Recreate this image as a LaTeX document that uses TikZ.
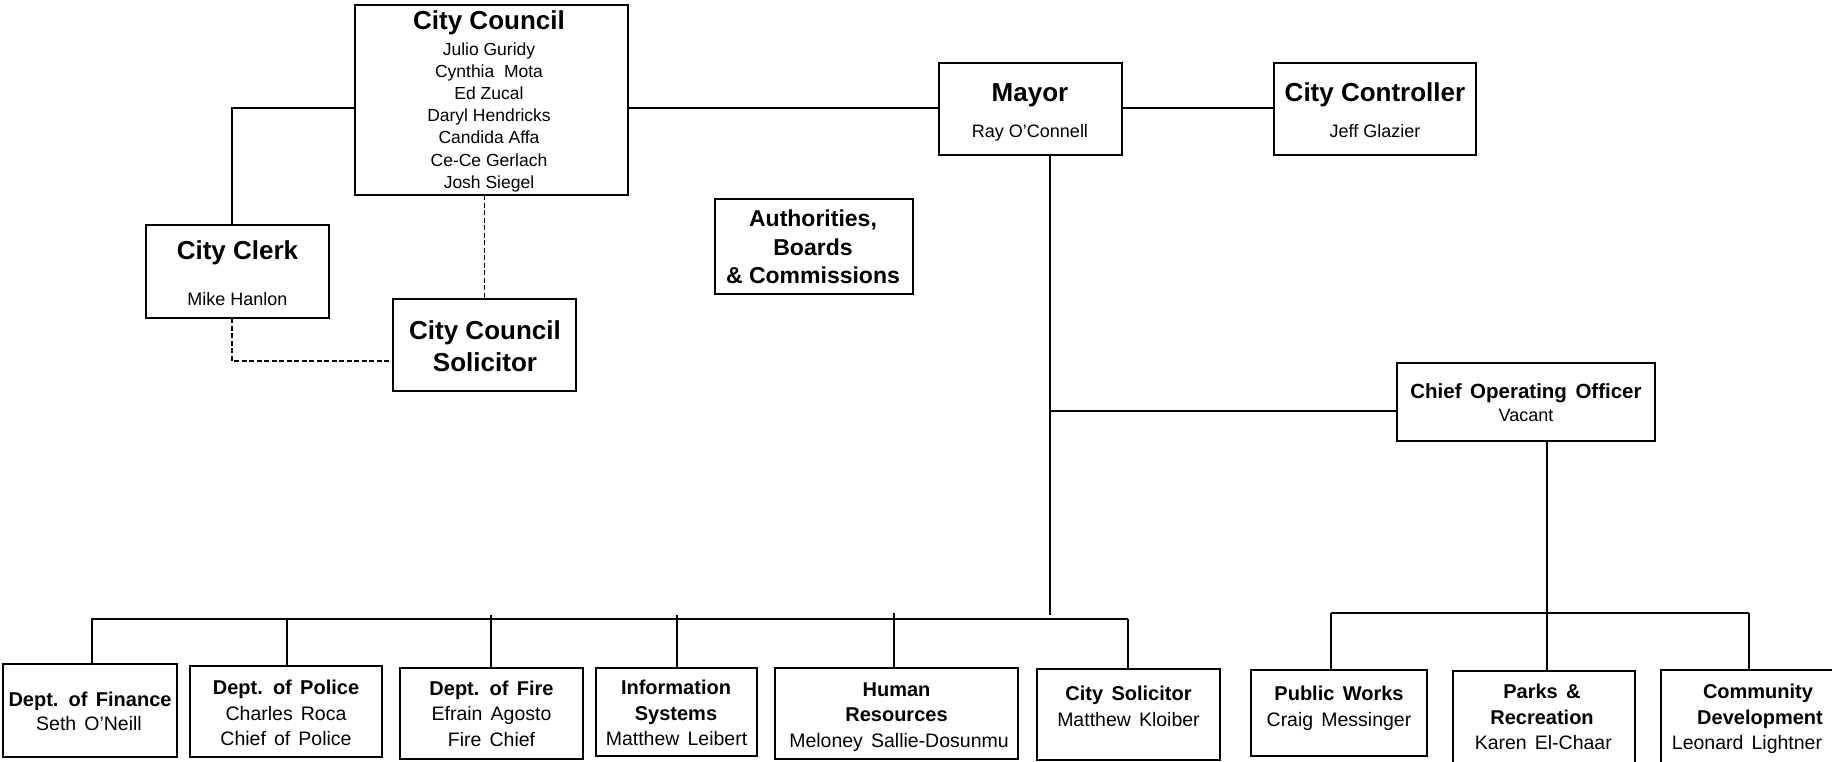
\documentclass[tikz,border=0pt]{standalone}
\usepackage{fontspec}
\setmainfont{Liberation Sans}
\newfontfamily\wsfont{Liberation Sans}[WordSpace=1.5]
\usetikzlibrary{calc}
\tikzset{
  box/.style={draw, line width=2pt, rectangle, inner sep=0pt, outer sep=0pt},
  lnk/.style={line width=1.8pt},
  thk/.style={line width=2.5pt},
  dsh/.style={line width=1.5pt, dash pattern=on 5pt off 2.5pt},
  ttl/.style={font=\fontsize{26}{30}\selectfont\bfseries, anchor=base, inner sep=0pt},
  nm/.style={font=\fontsize{18}{22}\selectfont, anchor=base, inner sep=0pt},
  cnm/.style={font=\fontsize{17.5}{22}\selectfont, anchor=base, inner sep=0pt},
  authtl/.style={font=\fontsize{23}{28}\selectfont\bfseries, anchor=base, inner sep=0pt},
  cootl/.style={font=\wsfont\fontsize{20.5}{24}\selectfont\bfseries, anchor=base, inner sep=0pt},
  btl/.style={font=\wsfont\fontsize{20}{24}\selectfont\bfseries, anchor=base, inner sep=0pt},
  bnm/.style={font=\wsfont\fontsize{19.5}{24}\selectfont, anchor=base, inner sep=0pt},
}
\newcommand\mkbox[5]{\node[box, minimum width={#4-#2}, minimum height={#5-#3}] (#1) at ({(#2+#4)/2},{(#3+#5)/2}) {};}
\begin{document}
\begin{tikzpicture}[x=1pt,y=-1pt]
\useasboundingbox (0,0) rectangle (1832,761);
% boxes
\mkbox{council}{355}{5}{628}{195}
\mkbox{mayor}{939}{63}{1122}{155}
\mkbox{ctrl}{1274}{63}{1476}{155}
\mkbox{clerk}{146}{225}{329}{318}
\mkbox{ccsol}{393}{299}{576}{391}
\mkbox{auth}{715}{199}{913}{294}
\mkbox{coo}{1397}{363}{1655}{441}
\mkbox{finance}{3}{664}{177}{757}
\mkbox{police}{190}{666}{382}{757}
\mkbox{fire}{400}{668}{583}{759}
\mkbox{info}{596}{668}{757}{756}
\mkbox{hr}{775}{668}{1018}{759}
\mkbox{citysol}{1037}{669}{1220}{760}
\mkbox{pw}{1251}{670}{1427}{756}
\mkbox{parks}{1453}{671}{1635}{766}
\mkbox{comm}{1661}{670}{1855}{766}
% texts
\node[ttl] (council-t) at (489,29.5) {City Council};
\node[cnm] (council-n1) at (489,55) {Julio Guridy};
\node[cnm] (council-n2) at (489,77.2) {Cynthia\ \ Mota};
\node[cnm] (council-n3) at (489,99.4) {Ed Zucal};
\node[cnm] (council-n4) at (489,121.6) {Daryl Hendricks};
\node[cnm] (council-n5) at (489,143.8) {Candida Affa};
\node[cnm] (council-n6) at (489,166) {Ce-Ce Gerlach};
\node[cnm] (council-n7) at (489,188.2) {Josh Siegel};
\node[ttl] (mayor-t) at (1030,101) {Mayor};
\node[nm] (mayor-n) at (1030,137.5) {Ray O’Connell};
\node[ttl] (ctrl-t) at (1375,101.5) {City Controller};
\node[nm] (ctrl-n) at (1375,137.5) {Jeff Glazier};
\node[ttl] (clerk-t) at (237.5,259.5) {City Clerk};
\node[nm] (clerk-n) at (237.5,305) {Mike Hanlon};
\node[ttl] (ccsol-t1) at (485,339) {City Council};
\node[ttl] (ccsol-t2) at (485,371) {Solicitor};
\node[authtl] (auth-t1) at (813,226) {Authorities,};
\node[authtl] (auth-t2) at (813,255) {Boards};
\node[authtl] (auth-t3) at (813,283.3) {\& Commissions};
\node[cootl] (coo-t) at (1526,398.3) {Chief Operating Officer};
\node[nm] (coo-n) at (1526,421) {Vacant};
\node[btl] (finance-t) at (90,706.7) {Dept. of Finance};
\node[bnm] (finance-n) at (89,730) {Seth O’Neill};
\node[btl] (police-t) at (286,694.3) {Dept. of Police};
\node[bnm] (police-n1) at (286,720) {Charles Roca};
\node[bnm] (police-n2) at (286,745.7) {Chief of Police};
\node[btl] (fire-t) at (491.5,695) {Dept. of Fire};
\node[bnm] (fire-n1) at (491.5,720.7) {Efrain Agosto};
\node[bnm] (fire-n2) at (491.5,746.7) {Fire Chief};
\node[btl] (info-t1) at (676,694.3) {Information};
\node[btl] (info-t2) at (676,720) {Systems};
\node[bnm] (info-n) at (676.5,745.7) {Matthew Leibert};
\node[btl] (hr-t1) at (896.5,696.7) {Human};
\node[btl] (hr-t2) at (896.5,721.7) {Resources};
\node[bnm] (hr-n) at (899,747.3) {Meloney Sallie-Dosunmu};
\node[btl] (citysol-t) at (1128.5,700.7) {City Solicitor};
\node[bnm] (citysol-n) at (1128.5,726) {Matthew Kloiber};
\node[btl] (pw-t) at (1339,700.7) {Public Works};
\node[bnm] (pw-n) at (1339,726) {Craig Messinger};
\node[btl] (parks-t1) at (1542,698.3) {Parks \&};
\node[btl] (parks-t2) at (1542,724) {Recreation};
\node[bnm] (parks-n) at (1543.3,749) {Karen El-Chaar};
\node[btl] (comm-t1) at (1758,698.3) {Community};
\node[btl] (comm-t2) at (1760,724) {Development};
\node[bnm] (comm-n) at (1747,749) {Leonard Lightner};
% connectors
\coordinate (clk) at (232,108);
\draw[thk] (clerk.north -| clk) -- (clk) -- (council.west |- clk);
\draw[thk] (council.east |- clk) -- (mayor.west |- clk);
\draw[thk] (mayor.east |- clk) -- (ctrl.west |- clk);
\draw[dsh] (council.south -| ccsol.north) -- (ccsol.north);
\coordinate (dk) at (232,361);
\draw[dsh] (clerk.south -| dk) -- (dk) -- (ccsol.west |- dk);
\coordinate (mv) at (1050,615);
\draw[lnk] (mayor.south -| mv) -- (mv);
\coordinate (cj) at (1050,411);
\draw[thk] (cj) -- (coo.west |- cj);
\coordinate (bl) at (91,619);
\coordinate (br) at (1128,619);
\draw[lnk] (bl) -- (br);
\coordinate (sF) at (92,619);
\coordinate (sP) at (287,619);
\coordinate (sFi) at (491,615);
\coordinate (sI) at (677,615);
\coordinate (sH) at (894,613);
\draw[lnk] (sF) -- (finance.north -| sF);
\draw[lnk] (sP) -- (police.north -| sP);
\draw[lnk] (sFi) -- (fire.north -| sFi);
\draw[line width=2.8pt] (sI) -- (info.north -| sI);
\draw[lnk] (sH) -- (hr.north -| sH);
\draw[lnk] (br) -- (citysol.north -| br);
\coordinate (cd) at (1547,613);
\coordinate (rl) at (1331,613);
\coordinate (rr) at (1749,613);
\draw[lnk] (coo.south -| cd) -- (cd);
\draw[lnk] (rl) -- (rr);
\draw[lnk] (rl) -- (pw.north -| rl);
\draw[lnk] (cd) -- (parks.north -| cd);
\draw[lnk] (rr) -- (comm.north -| rr);
\end{tikzpicture}
\end{document}
